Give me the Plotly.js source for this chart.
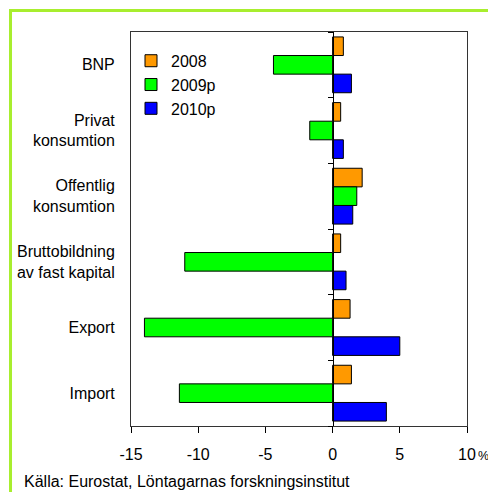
<!DOCTYPE html>
<html><head><meta charset="utf-8">
<script src="https://cdn.plot.ly/plotly-3.0.1.min.js"></script>
<style>body{margin:0;padding:0;background:#fff}</style>
</head><body><div id="chart" style="width:488px;height:492px"></div>
<script>
const categories = ["BNP", "Privat<br>konsumtion", "Offentlig<br>konsumtion", "Bruttobildning<br>av fast kapital", "Export", "Import"];
const values2008 = [0.8, 0.6, 2.2, 0.6, 1.3, 1.4];
const values2009 = [-4.4, -1.7, 1.8, -11.0, -14.0, -11.4];
const values2010 = [1.4, 0.8, 1.5, 1.0, 5.0, 4.0];
const seriesNames = ["2008", "2009p", "2010p"];
const seriesColors = ["#FF9900", "#00FF00", "#0000FF"];
const xTickVals = [-15, -10, -5, 0, 5, 10];
const xTickText = ["-15", "-10", "-5", "0", "5", "10"];
const sourceText = "Källa: Eurostat, Löntagarnas forskningsinstitut";
const unitText = "%";

const pos = categories.map((c, i) => i);
const bounds = [-0.5].concat(pos.map(p => p + 0.5));
const FONT = "Liberation Sans, Arial, sans-serif";

const allValues = [values2008, values2009, values2010];
const traces = allValues.map((vals, k) => ({
  type: "bar", orientation: "h", name: seriesNames[k],
  x: vals, y: pos,
  marker: {color: seriesColors[k], line: {color: "#000", width: 1}},
  hoverinfo: "skip"
}));
traces.push({type: "scatter", x: [null], y: [null], yaxis: "y2", showlegend: false, hoverinfo: "skip"});

const layout = {
  width: 488, height: 492,
  margin: {l: 131, r: 21, t: 32, b: 66},
  paper_bgcolor: "#fff", plot_bgcolor: "#fff",
  font: {family: FONT, size: 16, color: "#000"},
  barmode: "group", bargap: 0.15, bargroupgap: 0,
  showlegend: true,
  legend: {x: 0.0, y: 0.970, xanchor: "left", yanchor: "top", bgcolor: "rgba(0,0,0,0)",
           font: {family: FONT, size: 16, color: "#000"}, traceorder: "normal"},
  xaxis: {range: [-15, 10], tickvals: xTickVals, ticktext: xTickText, ticks: "outside", ticklen: 6,
          ticklabelstandoff: 8,
          tickcolor: "#000", showline: true, linecolor: "#333", linewidth: 1, mirror: true,
          showgrid: false, zeroline: false, fixedrange: true},
  yaxis: {range: [5.5, -0.5], tickvals: pos, ticktext: categories, ticks: "outside", ticklen: 12,
          tickcolor: "rgba(0,0,0,0)", showline: true, linecolor: "#333", linewidth: 1, mirror: true,
          showgrid: false, zeroline: false, fixedrange: true},
  yaxis2: {overlaying: "y", anchor: "free", position: 0.6, side: "left",
           range: [5.5, -0.5], tickvals: bounds, showticklabels: false, ticks: "outside", ticklen: 5,
           tickcolor: "#000", showline: true, linecolor: "#000", linewidth: 1,
           showgrid: false, zeroline: false, fixedrange: true},
  annotations: [
    {xref: "paper", yref: "paper", x: -0.3244, y: -0.1396, xanchor: "left", yanchor: "middle",
     text: sourceText, showarrow: false, font: {family: FONT, size: 16, color: "#000"}},
    {xref: "paper", yref: "paper", x: 1.0283, y: -0.0761, xanchor: "left", yanchor: "middle",
     borderpad: 0, text: unitText, showarrow: false, font: {family: FONT, size: 12.5, color: "#000"}}
  ],
  shapes: [
    {type: "line", xref: "paper", yref: "paper", x0: -0.3586, x1: 1.08, y0: 1.0546, y1: 1.0546,
     line: {color: "#A8EE2E", width: 3}},
    {type: "line", xref: "paper", yref: "paper", x0: -0.3586, x1: -0.3586, y0: 1.0584, y1: -0.2,
     line: {color: "#A8EE2E", width: 3}}
  ]
};
Plotly.newPlot("chart", traces, layout, {displayModeBar: false, staticPlot: true});
</script></body></html>
